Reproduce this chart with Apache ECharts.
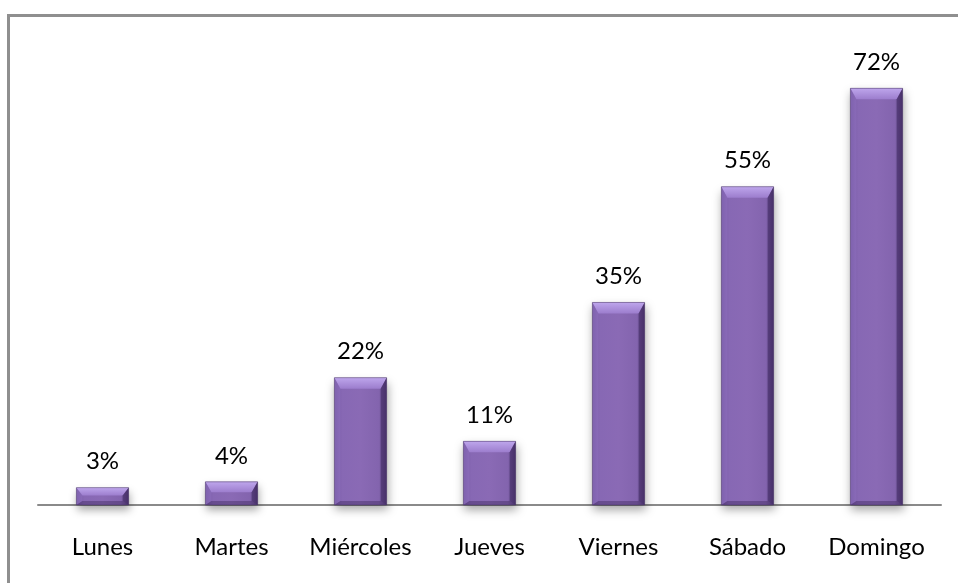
<!DOCTYPE html>
<html>
<head>
<meta charset="utf-8">
<script src="https://cdn.jsdelivr.net/npm/echarts@6/dist/echarts.min.js"></script>
<style>
  html, body { margin: 0; padding: 0; background: #fff; }
  #chart { width: 958px; height: 583px; }
</style>
</head>
<body>
<div id="chart"></div>
<script>
// Share of each weekday (%)
const days = ['Lunes', 'Martes', 'Miércoles', 'Jueves', 'Viernes', 'Sábado', 'Domingo'];
const shares = [3, 4, 22, 11, 35, 55, 72];

const FONT = 'Lato, "Open Sans", sans-serif';

// Bevelled column: body, lit top facet, shaded side/bottom facets, value label
function renderBevelBar(params, api) {
  const idx = api.value(0);
  const val = api.value(1);
  const top = api.coord([idx, val]);
  const base = api.coord([idx, 0]);
  const w = api.size([1, 0])[0] * 0.405;
  const x0 = top[0] - w / 2, x1 = top[0] + w / 2;
  const y0 = top[1], y1 = base[1];
  const h = y1 - y0;
  const b = Math.min(11, h / 2.2);  // bevel depth
  const s = Math.min(6, w / 6);     // side facet width
  const bb = Math.min(4, h / 4);    // bottom facet depth

  return {
    type: 'group',
    children: [
      {
        type: 'rect',
        shape: { x: x0, y: y0, width: w, height: h },
        style: {
          fill: new echarts.graphic.LinearGradient(0, 0, 1, 0, [
            { offset: 0, color: '#7456a0' },
            { offset: 0.15, color: '#8768b4' },
            { offset: 0.5, color: '#8a6ab5' },
            { offset: 0.85, color: '#8364ae' },
            { offset: 1, color: '#5e4582' }
          ]),
          shadowBlur: 9,
          shadowOffsetY: 5,
          shadowOffsetX: 1,
          shadowColor: 'rgba(0,0,0,0.35)'
        }
      },
      {
        type: 'polygon',
        shape: { points: [[x0, y0], [x1, y0], [x1 - s, y0 + b], [x0 + s, y0 + b]] },
        style: {
          fill: new echarts.graphic.LinearGradient(0, 0, 0, 1, [
            { offset: 0, color: '#bea6ec' },
            { offset: 1, color: '#9c7dcd' }
          ])
        }
      },
      {
        type: 'polygon',
        shape: { points: [[x0, y0], [x0 + s, y0 + b], [x0 + s, y1 - bb], [x0, y1]] },
        style: { fill: 'rgba(150,120,200,0.35)' }
      },
      {
        type: 'polygon',
        shape: { points: [[x1, y0], [x1 - s, y0 + b], [x1 - s, y1 - bb], [x1, y1]] },
        style: { fill: 'rgba(45,25,75,0.45)' }
      },
      {
        type: 'polygon',
        shape: { points: [[x0, y1], [x1, y1], [x1 - s, y1 - bb], [x0 + s, y1 - bb]] },
        style: { fill: 'rgba(45,25,75,0.35)' }
      },
      {
        type: 'rect',
        shape: { x: x0, y: y0, width: w, height: h },
        style: { fill: 'none', stroke: 'rgba(70,50,100,0.6)', lineWidth: 0.8 }
      },
      {
        type: 'text',
        style: {
          text: val + '%',
          x: top[0],
          y: y0 - 14,
          align: 'center',
          verticalAlign: 'bottom',
          font: '24px ' + FONT,
          fill: '#000'
        }
      }
    ]
  };
}

const chart = echarts.init(document.getElementById('chart'), null, { renderer: 'canvas' });
chart.setOption({
  animation: false,
  backgroundColor: '#fff',
  grid: { left: 38, right: 17, top: 42, bottom: 78 },
  graphic: [{
    type: 'polyline',
    shape: { points: [[8.5, 583], [8.5, 15.5], [958, 15.5]] },
    style: { fill: 'none', stroke: '#8f8f8f', lineWidth: 3 },
    z: 10
  }],
  xAxis: {
    type: 'category',
    data: days,
    boundaryGap: true,
    axisLine: { show: true, lineStyle: { color: '#8a8a8a', width: 2 } },
    axisTick: { show: false },
    axisLabel: { color: '#000', fontSize: 24, fontFamily: FONT, margin: 30, interval: 0 }
  },
  yAxis: {
    type: 'value',
    min: 0,
    max: 80,
    show: false,
    splitLine: { show: false }
  },
  series: [{
    type: 'custom',
    renderItem: renderBevelBar,
    encode: { x: 0, y: 1 },
    data: shares.map((v, i) => [i, v]),
    z: 3
  }]
});
</script>
</body>
</html>
